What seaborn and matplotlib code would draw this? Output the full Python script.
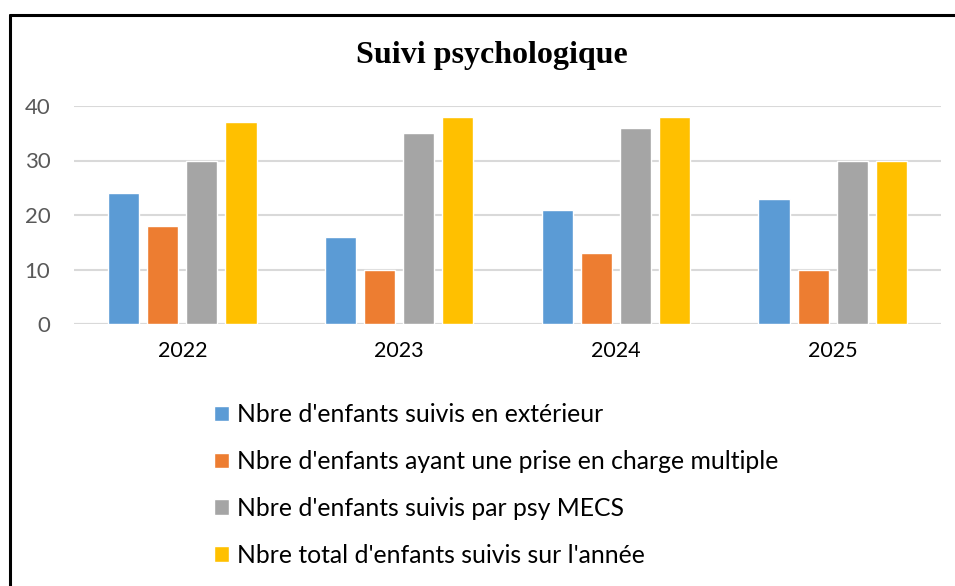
"""
Suivi psychologique: grouped bar chart recreated with seaborn.
"""

import matplotlib
matplotlib.use('Agg')
import pandas as pd
import matplotlib.pyplot as plt
import seaborn as sns
from matplotlib.lines import Line2D

years = ['2022', '2023', '2024', '2025']
series = [
    "Nbre d'enfants suivis en extérieur",
    "Nbre d'enfants ayant une prise en charge multiple",
    "Nbre d'enfants suivis par psy MECS",
    "Nbre total d'enfants suivis sur l'année",
]
exterieur = [24, 16, 21, 23]
multiple = [18, 10, 13, 10]
psy_mecs = [30, 35, 36, 30]
total = [37, 38, 38, 30]
colors = ['#5b9bd5', '#ed7d31', '#a5a5a5', '#ffc000']

sns.set_theme(style='white')
plt.rcParams['font.family'] = ['Lato', 'DejaVu Sans']

# long format for seaborn
rows = []
for name, vals in zip(series, [exterieur, multiple, psy_mecs, total]):
    for y, v in zip(years, vals):
        rows.append({'Année': y, 'Série': name, 'Valeur': v})
df = pd.DataFrame(rows)

fig = plt.figure(figsize=(9.55, 5.86), dpi=100)
ax = fig.add_axes([74 / 955, 1 - 324 / 586, (941 - 74) / 955, (324 - 106) / 586])

sns.barplot(data=df, x='Année', y='Valeur', hue='Série', hue_order=series,
            palette=colors, width=0.72, gap=0.2, saturation=1, ax=ax)

ax.set_ylim(0, 40)
ax.set_yticks([0, 10, 20, 30, 40])
ax.yaxis.grid(True, color='#d9d9d9', linewidth=1.5)
ax.set_axisbelow(True)
for side in ['top', 'right', 'left', 'bottom']:
    ax.spines[side].set_visible(False)
ax.axhline(0, color='#d9d9d9', linewidth=1.5, zorder=0)
ax.tick_params(axis='y', length=0, labelsize=16, labelcolor='#595959', pad=17)
ax.tick_params(axis='x', length=0, labelsize=15.5, labelcolor='#000000', pad=12)
ax.set_xlabel('')
ax.set_ylabel('')

sns.move_legend(ax, 'upper left', bbox_to_anchor=(202 / 955, 1 - 391 / 586),
                bbox_transform=fig.transFigure, frameon=False, title=None,
                fontsize=17.8, handlelength=0.6, handleheight=0.6,
                handletextpad=0.3, labelspacing=0.96, borderpad=0)
for t in ax.get_legend().get_texts():
    t.set_color('black')

fig.text(492 / 955, 1 - 56 / 586, 'Suivi psychologique', ha='center', va='center',
         fontsize=23, fontweight='bold', family='Liberation Serif', color='black')

# outer frame of the chart area (top and left edges only are visible)
fig.add_artist(Line2D([9.5 / 955, 1.0], [1 - 15 / 586, 1 - 15 / 586],
                      transform=fig.transFigure, color='black', linewidth=2.2))
fig.add_artist(Line2D([9.5 / 955, 9.5 / 955], [0, 1 - 15 / 586],
                      transform=fig.transFigure, color='black', linewidth=2.2))

fig.savefig('out.png', dpi=100)
